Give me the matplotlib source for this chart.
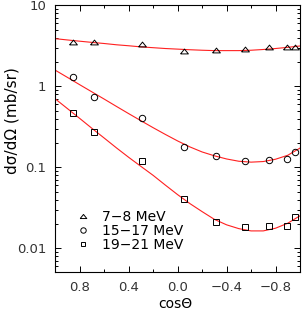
import matplotlib
matplotlib.use("Agg")
import matplotlib.pyplot as plt
from matplotlib.ticker import FixedLocator, FixedFormatter, LogLocator, NullFormatter

plt.rcParams['font.family'] = ['DejaVu Sans']

# measured angles (cos theta) -- shared by all three series
cos_pts = [0.853, 0.681, 0.294, -0.052, -0.311, -0.548, -0.744, -0.891, -0.961]
y_7_8 = [3.57, 3.51, 3.35, 2.74, 2.80, 2.88, 3.05, 3.10, 3.10]
y_15_17 = [1.29, 0.741, 0.405, 0.177, 0.140, 0.121, 0.124, 0.126, 0.154]
y_19_21 = [0.475, 0.274, 0.120, 0.0404, 0.0210, 0.0183, 0.0191, 0.0191, 0.0245]

# fitted curves
fit_cos = [1.0, 0.9, 0.8, 0.7, 0.6, 0.5, 0.4, 0.3, 0.2, 0.1, 0.0,
           -0.1, -0.2, -0.3, -0.4, -0.5, -0.6, -0.7, -0.8, -0.9, -1.0]
fit_7_8 = [3.89, 3.75, 3.62, 3.50, 3.39, 3.27, 3.18, 3.08, 3.01, 2.94, 2.89,
           2.84, 2.80, 2.77, 2.77, 2.77, 2.80, 2.86, 2.94, 3.04, 3.16]
fit_15_17 = [1.585, 1.291, 1.049, 0.855, 0.697, 0.566, 0.461, 0.377, 0.309, 0.255, 0.212,
             0.179, 0.155, 0.139, 0.127, 0.119, 0.116, 0.118, 0.126, 0.141, 0.173]
fit_19_21 = [0.701, 0.531, 0.402, 0.303, 0.230, 0.174, 0.133, 0.1028, 0.0796, 0.0603, 0.0460,
             0.0357, 0.0284, 0.0228, 0.0195, 0.0175, 0.0164, 0.0164, 0.0177, 0.0204, 0.0252]

labels = ["7\u22128 MeV", "15\u221217 MeV", "19\u221221 MeV"]
xtick_vals = [0.8, 0.4, 0.0, -0.4, -0.8]
xtick_labels = ["0.8", "0.4", "0.0", "\u22120.4", "\u22120.8"]
xminor_vals = [1.0, 0.6, 0.2, -0.2, -0.6, -1.0]
ytick_vals = [0.01, 0.1, 1, 10]
ytick_labels = ["0.01", "0.1", "1", "10"]

fig = plt.figure(figsize=(3.03, 3.12), dpi=100)
ax = fig.add_axes([0.1825, 0.1292, 0.8075, 0.8532])

tri = [(-1, -0.62), (1, -0.62), (0, 0.62), (-1, -0.62)]
red = '#ff2020'
ax.plot(fit_cos, fit_7_8, color=red, lw=0.8, zorder=2)
ax.plot(fit_cos, fit_15_17, color=red, lw=0.8, zorder=2)
ax.plot(fit_cos, fit_19_21, color=red, lw=0.8, zorder=2)

h1, = ax.plot(cos_pts, y_7_8, linestyle='none', marker=tri, ms=5.6,
              mfc='none', mec='black', mew=0.7, zorder=3)
h2, = ax.plot(cos_pts, y_15_17, linestyle='none', marker='o', ms=4.6,
              mfc='none', mec='black', mew=0.7, zorder=3)
h3, = ax.plot(cos_pts, y_19_21, linestyle='none', marker='s', ms=4.1,
              mfc='none', mec='black', mew=0.7, zorder=3)

ax.set_yscale('log')
ax.set_xlim(1.0, -1.0)
ax.set_ylim(0.00514, 10)

ax.xaxis.set_major_locator(FixedLocator(xtick_vals))
ax.xaxis.set_major_formatter(FixedFormatter(xtick_labels))
ax.xaxis.set_minor_locator(FixedLocator(xminor_vals))
ax.yaxis.set_major_locator(FixedLocator(ytick_vals))
ax.yaxis.set_major_formatter(FixedFormatter(ytick_labels))
ax.yaxis.set_minor_locator(LogLocator(base=10, subs=range(2, 10)))
ax.yaxis.set_minor_formatter(NullFormatter())

ax.tick_params(which='both', direction='in', top=True, right=True,
               width=0.7, color='black')
ax.tick_params(which='major', length=4.0, labelsize=9.5, pad=6.5,
               labelcolor='#333333')
ax.tick_params(which='minor', length=2.0)
for s in ax.spines.values():
    s.set_linewidth(0.8)

ax.set_ylabel("d\u03c3/d\u03a9 (mb/sr)", fontsize=11)
ax.yaxis.set_label_coords(-0.148, 0.567)
ax.set_xlabel("cos\u0398", fontsize=10)
ax.xaxis.label.set_va('baseline')
ax.xaxis.set_label_coords(0.49, -0.137)

ax.legend([h1, h2, h3], labels, loc='upper left', bbox_to_anchor=(0.086, 0.232),
          frameon=False, fontsize=10, handlelength=1.0, handletextpad=0.82,
          labelspacing=0.0, borderpad=0.0, borderaxespad=0.0, markerscale=0.85)

fig.savefig("out.png", dpi=100)
